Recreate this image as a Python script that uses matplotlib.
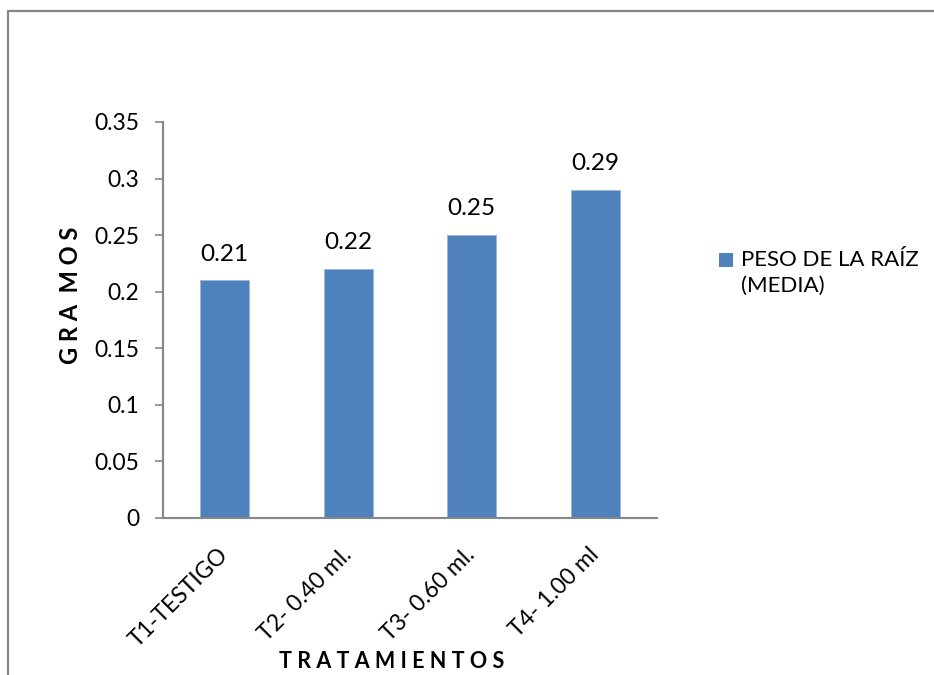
import matplotlib
matplotlib.use("Agg")
import matplotlib.pyplot as plt
from matplotlib.lines import Line2D
from matplotlib.patches import Rectangle

plt.rcParams['font.family'] = ['Lato', 'DejaVu Sans']

categories = ["T1-TESTIGO", "T2- 0.40 ml.", "T3- 0.60 ml.", "T4- 1.00 ml"]
values = [0.21, 0.22, 0.25, 0.29]
value_labels = ["0.21", "0.22", "0.25", "0.29"]
y_ticks = [0, 0.05, 0.1, 0.15, 0.2, 0.25, 0.3, 0.35]
y_tick_labels = ["0", "0.05", "0.1", "0.15", "0.2", "0.25", "0.3", "0.35"]
series_name = "PESO DE LA RAÍZ\n(MEDIA)"

bar_color = "#4F81BD"
axis_gray = "#868686"
W, H = 934, 675

fig = plt.figure(figsize=(W / 100, H / 100), dpi=100)
ax = fig.add_axes([163 / W, 1 - 518 / H, (657 - 163) / W, (518 - 122) / H])

x = list(range(len(categories)))
ax.bar(x, values, width=0.40, color=bar_color, edgecolor="#9DB7DA", linewidth=0.6, zorder=2)

for xi, v, lab in zip(x, values, value_labels):
    ax.annotate(lab, xy=(xi, v), xytext=(0, 19), textcoords="offset points",
                ha="center", va="center", fontsize=17.5, color="black")

ax.set_xlim(-0.5, len(categories) - 0.5)
ax.set_ylim(0, 0.35)
ax.set_yticks(y_ticks)
ax.set_yticklabels(y_tick_labels, fontsize=16.5)
ax.set_xticks(x)
ax.set_xticklabels(categories, fontsize=16.5, rotation=45, ha="right",
                   va="center", rotation_mode="anchor")

for side in ("top", "right"):
    ax.spines[side].set_visible(False)
for side in ("left", "bottom"):
    ax.spines[side].set_color(axis_gray)
    ax.spines[side].set_linewidth(1.5)

ax.tick_params(axis="y", direction="out", length=6, width=1.2, color=axis_gray, pad=11)
ax.tick_params(axis="x", length=0, pad=24)

# Axis titles
fig.text(70 / W, 1 - 295 / H, "G R A  M O S", rotation=90, ha="center", va="center",
         fontsize=17, fontweight="bold")
fig.text(392 / W, 1 - 662 / H, "T R A T A M I E N T O S", ha="center", va="center",
         fontsize=15.5, fontweight="bold")

# Legend
fig.add_artist(Rectangle((719 / W, 1 - 267 / H), 14 / W, 14 / H,
                         transform=fig.transFigure, facecolor=bar_color, edgecolor="none"))
fig.text(741 / W, 1 - 250 / H, series_name, ha="left", va="top", fontsize=16,
         linespacing=1.35)

# Outer chart frame
fig.add_artist(Line2D([8 / W, 8 / W, 1.0], [0.0, 1 - 10.5 / H, 1 - 10.5 / H],
                      transform=fig.transFigure, color=axis_gray, linewidth=1.6))

fig.savefig("out.png", dpi=100, facecolor="white")
